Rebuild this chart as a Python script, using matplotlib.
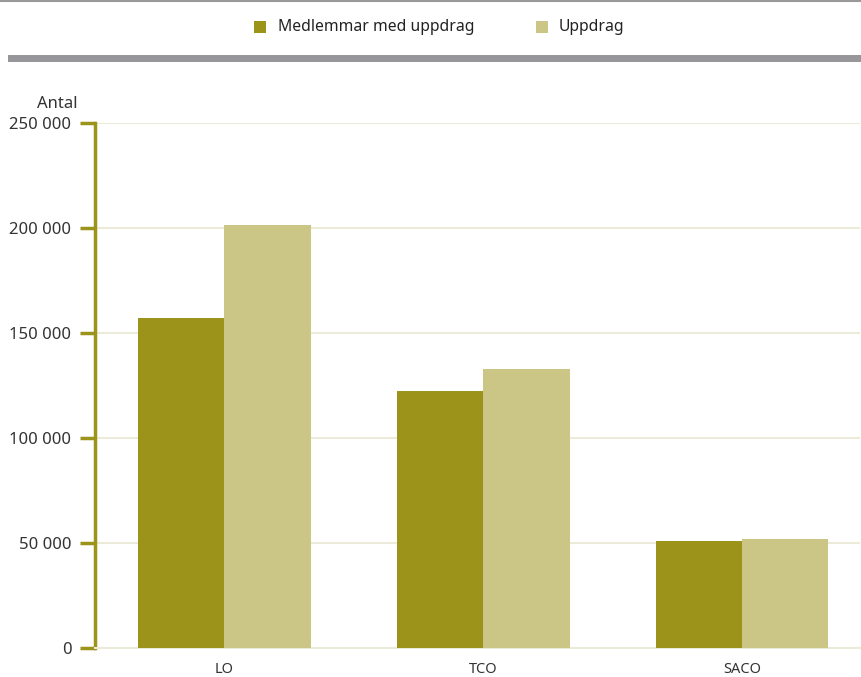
import matplotlib.pyplot as plt
from matplotlib.lines import Line2D
from matplotlib.patches import Rectangle
import numpy as np

categories = ['LO', 'TCO', 'SACO']
medlemmar = [157000, 122300, 51000]
uppdrag = [201500, 132800, 51800]
yticks = [0, 50000, 100000, 150000, 200000, 250000]
ytick_labels = ['0', '50 000', '100 000', '150 000', '200 000', '250 000']

dark = '#9c931a'
light = '#cbc685'
grid = '#ecebd9'

plt.rcParams['font.family'] = ['Noto Sans', 'DejaVu Sans']

fig = plt.figure(figsize=(8.62, 6.77), dpi=100)
ax = fig.add_axes([95 / 862, 1 - 648 / 677, (860 - 95) / 862, 525 / 677])

x = np.arange(len(categories))
w = 0.333
ax.bar(x - w / 2, medlemmar, w, color=dark, zorder=3)
ax.bar(x + w / 2, uppdrag, w, color=light, zorder=3)

ax.set_xlim(-0.5, 2.455)
ax.set_ylim(0, 250000)
ax.set_yticks(yticks)
ax.set_yticklabels(ytick_labels, fontsize=12, color='#333333')
ax.set_xticks(x)
ax.set_xticklabels(categories, fontsize=10.5, color='#333333')
ax.tick_params(axis='x', length=0, pad=10)
ax.tick_params(axis='y', length=11, width=2.5, color=dark, pad=6)
ax.yaxis.grid(True, color=grid, linewidth=1.5, zorder=0)

for s in ['top', 'right']:
    ax.spines[s].set_visible(False)
ax.spines['left'].set_color(dark)
ax.spines['left'].set_linewidth(2.5)
ax.spines['bottom'].set_color(grid)
ax.spines['bottom'].set_linewidth(1.5)

ax.text(-0.0235, 1.02, 'Antal', transform=ax.transAxes, ha='right', va='bottom',
        fontsize=12, color='#333333')

# top lines
fig.add_artist(Line2D([0, 1], [1 - 1 / 677, 1 - 1 / 677], color='#999999', lw=1.5))
fig.add_artist(Rectangle((8 / 862, 1 - 62 / 677), 1, 7 / 677, color='#97979b', lw=0))

# legend
ly = 1 - 27 / 677
fig.add_artist(Rectangle((254 / 862, ly - 6 / 677), 12 / 862, 12 / 677, color=dark, lw=0))
fig.text(278 / 862, ly, 'Medlemmar med uppdrag', fontsize=11.3, va='center',
         color='#222222')
fig.add_artist(Rectangle((536 / 862, ly - 6 / 677), 12 / 862, 12 / 677, color=light, lw=0))
fig.text(559 / 862, ly, 'Uppdrag', fontsize=11.3, va='center',
         color='#222222')

fig.savefig('out.png', dpi=100)
